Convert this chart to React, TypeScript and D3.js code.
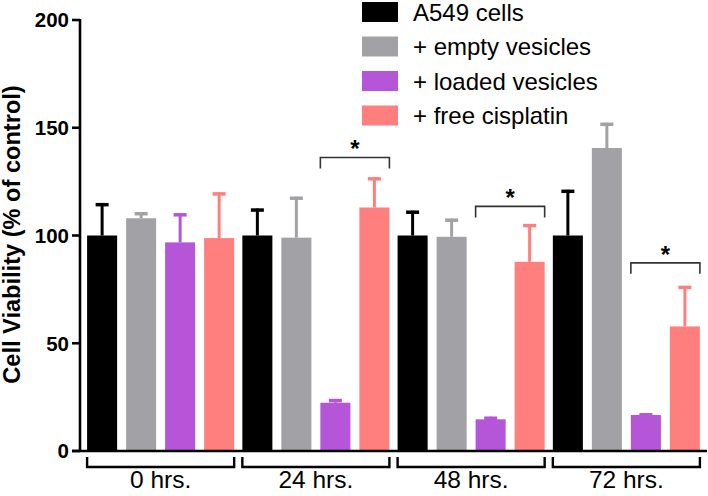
import React from "react";
import * as d3 from "d3";

const groups = ["0 hrs.", "24 hrs.", "48 hrs.", "72 hrs."];
const seriesNames = ["A549 cells", "+ empty vesicles", "+ loaded vesicles", "+ free cisplatin"];
const seriesColors = ["#000000", "#a2a2a6", "#b556d8", "#ff7f7e"];
const means = [
  [100, 108, 96.8, 98.8],
  [100, 99, 22.4, 113],
  [100, 99.4, 14.7, 87.8],
  [100, 140.6, 16.7, 57.8],
];
const errTops = [
  [115, 110.8, 110.3, 120],
  [112.5, 118, 24.1, 127],
  [111.5, 107.8, 15.9, 105.3],
  [121.2, 152.3, 17.5, 76.6],
];
const yTicks = [0, 50, 100, 150, 200];
// significance brackets: group index and bracket level (between loaded vesicles and free cisplatin)
const sigGroups = [1, 2, 3];
const sigLevels = [136.2, 113.5, 87.3];

const W = 708;
const H = 496;
const FONT = "'Liberation Sans', Arial, Helvetica, sans-serif";

export default function App() {
  const y = d3.scaleLinear().domain([0, 200]).range([451, 20]);
  const x0 = d3.scaleBand<string>().domain(groups).range([83, 704]).paddingInner(0).paddingOuter(0);
  const x1 = d3
    .scaleBand<string>()
    .domain(seriesNames)
    .range([0, x0.bandwidth()])
    .paddingInner(0.23)
    .paddingOuter(0.105);
  const bw = x1.bandwidth();
  const capW = 13;
  const axisX = 80;

  return (
    <svg
      width={W}
      height={H}
      style={{ position: "absolute", left: 0, top: 0, background: "#fff" }}
      fontFamily={FONT}
    >
      {/* bars */}
      {groups.map((g, gi) =>
        seriesNames.map((s, si) => {
          const bx = (x0(g) as number) + (x1(s) as number);
          const cx = bx + bw / 2;
          const c = seriesColors[si];
          return (
            <g key={g + s}>
              <line x1={cx} x2={cx} y1={y(means[gi][si])} y2={y(errTops[gi][si])} stroke={c} strokeWidth={3} />
              <line x1={cx - capW / 2} x2={cx + capW / 2} y1={y(errTops[gi][si]) + 1.5} y2={y(errTops[gi][si]) + 1.5} stroke={c} strokeWidth={3.5} />
              <rect x={bx} y={y(means[gi][si])} width={bw} height={y(0) - y(means[gi][si])} fill={c} />
            </g>
          );
        })
      )}

      {/* axes */}
      <line x1={axisX} x2={axisX} y1={y(200) - 1} y2={y(0) + 1} stroke="#000" strokeWidth={2.6} />
      <line x1={72} x2={707} y1={y(0)} y2={y(0)} stroke="#000" strokeWidth={2.6} />
      {yTicks.map((t) => (
        <g key={t}>
          <line x1={72} x2={axisX} y1={y(t)} y2={y(t)} stroke="#000" strokeWidth={2.6} />
          <text x={69} y={y(t)} dy="0.36em" textAnchor="end" fontSize={20.5} fontWeight="bold">
            {t}
          </text>
        </g>
      ))}
      <text
        transform={`translate(20,${(y(0) + y(200)) / 2 - 1}) rotate(-90)`}
        textAnchor="middle"
        fontSize={23.6}
        fontWeight="bold"
      >
        Cell Viability (% of control)
      </text>

      {/* group brackets under axis */}
      {groups.map((g) => {
        const a = (x0(g) as number) + (x1(seriesNames[0]) as number);
        const b = (x0(g) as number) + (x1(seriesNames[3]) as number) + bw;
        return (
          <g key={g}>
            <path d={`M${a},457 V467 H${b} V457`} fill="none" stroke="#000" strokeWidth={2.4} />
            <text x={(a + b) / 2} y={488} textAnchor="middle" fontSize={24.5}>
              {g}
            </text>
          </g>
        );
      })}

      {/* significance brackets */}
      {sigGroups.map((gi, k) => {
        const g = groups[gi];
        const a = (x0(g) as number) + (x1(seriesNames[2]) as number);
        const b = (x0(g) as number) + (x1(seriesNames[3]) as number) + bw;
        const yy = y(sigLevels[k]);
        return (
          <g key={g}>
            <path d={`M${a},${yy + 11} V${yy} H${b} V${yy + 11}`} fill="none" stroke="#333" strokeWidth={1.6} />
            <text x={(a + b) / 2} y={yy} textAnchor="middle" fontSize={24} fontWeight="bold">
              *
            </text>
          </g>
        );
      })}

      {/* legend */}
      {seriesNames.map((s, i) => (
        <g key={s} transform={`translate(362,${2 + i * 34.5})`}>
          <rect x={0} y={0} width={36} height={20} fill={seriesColors[i]} />
          <text x={51} y={10} dy="0.36em" fontSize={24}>
            {s}
          </text>
        </g>
      ))}
    </svg>
  );
}
